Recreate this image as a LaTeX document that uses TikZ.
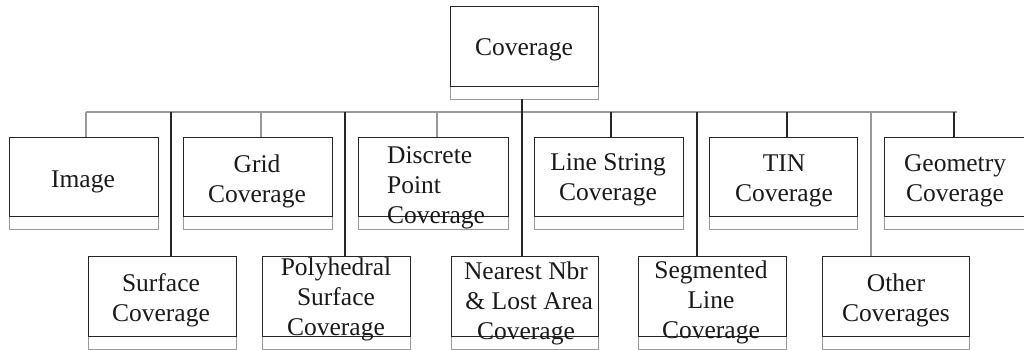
\documentclass[tikz,border=0pt]{standalone}
\usepackage{fontspec}
\setmainfont{Liberation Serif}
\tikzset{
  mainbox/.style={draw=black!85, line width=1.2pt, fill=none, inner sep=0pt, anchor=north west},
  compbox/.style={draw=black!40, line width=1.2pt, inner sep=0pt, anchor=north west},
  lbl/.style={font=\fontsize{25.5}{30}\selectfont, align=center, inner sep=0pt, text=black!90},
  darkline/.style={draw=black!85, line width=1.1pt},
  lightline/.style={draw=black!40, line width=1.1pt},
}
\newcommand\umlbox[5]{%
  \node[compbox, minimum width=#4, minimum height=13] (#1c) at (#2,#3+#5) {};
  \node[mainbox, minimum width=#4, minimum height=#5] (#1) at (#2,#3) {};
}
\begin{document}
\begin{tikzpicture}[x=1pt,y=-1pt]
\useasboundingbox (0,0) rectangle (1024,349);
% boxes
\umlbox{cover}{450}{6}{148}{80}
\umlbox{img}{9}{137}{149}{79}
\umlbox{grid}{183}{137}{149}{79}
\umlbox{disc}{358}{137}{150}{79}
\umlbox{line}{534}{137}{149}{79}
\umlbox{tin}{709}{137}{148}{79}
\umlbox{geom}{884}{137}{149}{79}
\umlbox{surf}{88}{256}{148}{80}
\umlbox{poly}{262}{256}{148}{80}
\umlbox{near}{451}{256}{147}{80}
\umlbox{seg}{638}{256}{148}{80}
\umlbox{other}{822}{256}{147}{80}
% labels
\node[lbl] (coverT) at (524,50) {Coverage};
\node[lbl] (imgT) at (83,182) {Image};
\node[lbl] (gridT) at (257,181) {Grid\\Coverage};
\node[lbl, align=left, anchor=west] (discT) at (387,188) {Discrete\\Point\\Coverage};
\node[lbl] (lineT) at (608,180) {Line String\\Coverage};
\node[lbl] (tinT) at (784,181) {TIN\\Coverage};
\node[lbl] (geomT) at (955,181) {Geometry\\Coverage};
\node[lbl] (surfT) at (161,300) {Surface\\Coverage};
\node[lbl] (polyT) at (336,299) {Polyhedral\\Surface\\Coverage};
\node[lbl] (nearT) at (526,303) {Nearest Nbr\\\ \& Lost Area\\Coverage};
\node[lbl] (segT) at (711,302) {Segmented\\Line\\Coverage};
\node[lbl] (otherT) at (896,300) {Other\\Coverages};
% bus
\coordinate (busL) at (86,112);
\coordinate (busR) at (957,112);
\draw[lightline] (busL) -- (busR);
\coordinate (jimg) at (86,112);
\coordinate (jsurf) at (171,112);
\coordinate (jgrid) at (261,112);
\coordinate (jpoly) at (345,112);
\coordinate (jdisc) at (437,112);
\coordinate (jline) at (611,112);
\coordinate (jseg) at (697,112);
\coordinate (jtin) at (787,112);
\coordinate (jother) at (871,112);
\coordinate (jgeom) at (954,112);
\coordinate (jmid) at (522,99);
\draw[darkline] (jmid) -- (jmid |- near.north);
\draw[lightline] (jimg) -- (jimg |- img.north);
\draw[darkline] (jsurf) -- (jsurf |- surf.north);
\draw[lightline] (jgrid) -- (jgrid |- grid.north);
\draw[darkline] (jpoly) -- (jpoly |- poly.north);
\draw[lightline] (jdisc) -- (jdisc |- disc.north);
\draw[darkline] (jline) -- (jline |- line.north);
\draw[darkline] (jseg) -- (jseg |- seg.north);
\draw[darkline] (jtin) -- (jtin |- tin.north);
\draw[lightline] (jother) -- (jother |- other.north);
\draw[darkline] (jgeom) -- (jgeom |- geom.north);
\end{tikzpicture}
\end{document}
